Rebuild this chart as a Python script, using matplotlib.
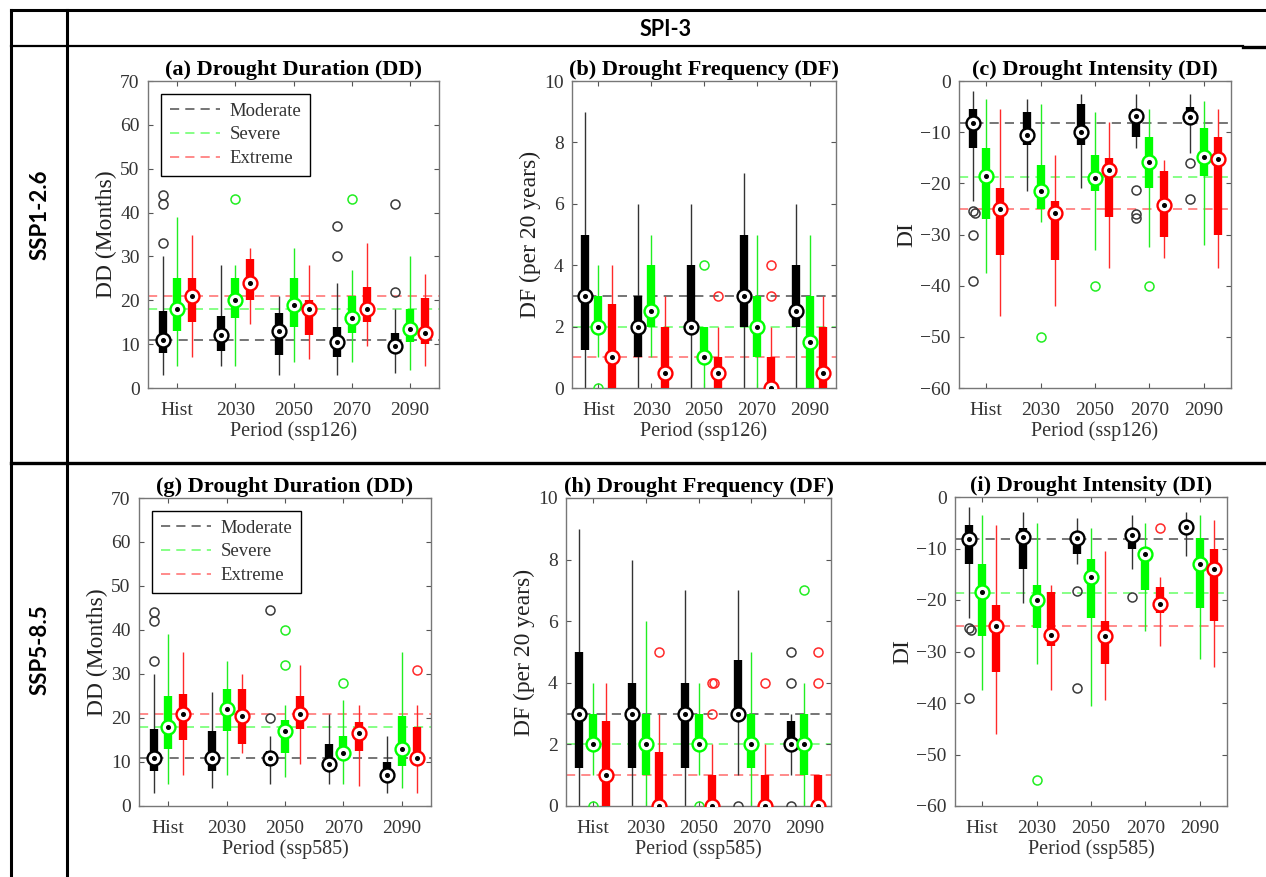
import numpy as np
import matplotlib.pyplot as plt
from matplotlib.lines import Line2D

plt.rcParams['font.family'] = ['Liberation Serif', 'DejaVu Serif']

periods = ['Hist', '2030', '2050', '2070', '2090']
classes = ['Moderate', 'Severe', 'Extreme']

# rows: Moderate, Severe, Extreme ; columns: Hist, 2030, 2050, 2070, 2090
# SSP1-2.6 drought duration (months)
dd126_lo = [[3, 5, 3, 3, 3.5], [5, 5, 6, 6, 4], [7, 14.5, 6.5, 9.5, 5]]
dd126_q1 = [[8, 8.5, 7.5, 7, 8.5], [13, 16, 14, 12.5, 10.5], [15, 20, 12, 15, 10]]
dd126_med = [[11, 12, 13, 10.5, 9.5], [18, 20, 19, 16, 13.5], [21, 24, 18, 18, 12.5]]
dd126_q3 = [[17.5, 16.5, 17, 14, 12.5], [25, 25, 25, 21, 18], [25, 29.5, 20, 23, 20.5]]
dd126_hi = [[30, 28, 21, 24, 18], [39, 28, 32, 27, 30], [35, 32, 28, 33, 26]]
dd126_out = [[[33, 42, 44], [], [], [30, 37], [22, 42]],
             [[], [43], [], [43], []],
             [[], [], [], [], []]]
dd126_ref = [11, 18, 21]

# SSP1-2.6 drought frequency (per 20 years)
df126_lo = [[0, 0, 0, 0, 0], [1, 1, 0, 0, 0], [0, 0, 0, 0, 0]]
df126_q1 = [[1.25, 1, 2, 2, 2], [2, 2, 1, 1, 0], [0, 0, 0, 0, 0]]
df126_med = [[3, 2, 2, 3, 2.5], [2, 2.5, 1, 2, 1.5], [1, 0.5, 0.5, 0, 0.5]]
df126_q3 = [[5, 3, 4, 5, 4], [3, 4, 2, 3, 3], [2.75, 2, 1, 1, 2]]
df126_hi = [[9, 6, 6, 7, 6], [4, 5, 2, 5, 5], [4, 3, 2, 2, 3]]
df126_out = [[[], [], [], [], []],
             [[0], [], [4], [], []],
             [[], [], [3], [3, 4], []]]
df126_ref = [3, 2, 1]

# SSP1-2.6 drought intensity
di126_lo = [[-23.5, -21.5, -21, -13, -14], [-37.5, -27.5, -33, -32.5, -32], [-46, -44, -36.5, -34.5, -36.5]]
di126_q1 = [[-13, -12.5, -12.5, -11, -8], [-27, -25, -21.5, -21, -18.5], [-34, -35, -26.5, -30.5, -30]]
di126_med = [[-8.2, -10.5, -10, -6.8, -7], [-18.5, -21.5, -19, -15.8, -14.8], [-25, -25.8, -17.3, -24.3, -15.2]]
di126_q3 = [[-5.5, -6, -4.5, -5.5, -5], [-13, -16.5, -14.5, -11, -9.2], [-21, -23.5, -15, -17.5, -11]]
di126_hi = [[-2, -3.5, -2.5, -2.5, -2.5], [-3.5, -4.5, -6, -5.5, -4], [-5.5, -14.5, -8, -15.5, -5.5]]
di126_out = [[[-25.5, -25.8, -30, -39], [], [], [-21.3, -26, -26.8], [-16, -23]],
             [[], [-50], [-40], [-40], []],
             [[], [], [], [], []]]
di126_ref = [-8.2, -18.7, -25]

# SSP5-8.5 drought duration (months)
dd585_lo = [[3, 4, 5, 5, 3], [5, 7, 6.5, 5, 4], [7, 12, 9.5, 4.5, 3]]
dd585_q1 = [[8, 8, 9, 9.5, 7], [13, 17, 12, 12, 9], [15, 14, 17.5, 12.5, 11]]
dd585_med = [[11, 11, 11, 9.5, 7], [18, 22, 17, 12, 13], [21, 20.5, 21, 16.5, 11]]
dd585_q3 = [[17.5, 17, 12.5, 14, 10], [25, 26.5, 19.5, 16, 20.5], [25.5, 26.5, 25, 19, 18]]
dd585_hi = [[30, 26, 16, 21, 16], [39, 33, 23, 24, 35], [35, 30, 32, 23, 23]]
dd585_out = [[[33, 42, 44], [], [20, 44.5], [], []],
             [[], [], [32, 40], [28], []],
             [[], [], [], [], [31]]]
dd585_ref = [11, 18, 21]

# SSP5-8.5 drought frequency (per 20 years)
df585_lo = [[0, 0, 0, 1, 1], [1, 0, 1, 0, 0], [0, 0, 0, 0, 0]]
df585_q1 = [[1.25, 1.25, 1.25, 3, 2], [2, 1, 2, 1.25, 1], [0, 0, 0, 0, 0]]
df585_med = [[3, 3, 3, 3, 2], [2, 2, 2, 2, 2], [1, 0, 0, 0, 0]]
df585_q3 = [[5, 4, 4, 4.75, 2.75], [3, 3, 3, 3, 3], [2.75, 1.75, 1, 1, 1]]
df585_hi = [[9, 8, 7, 7, 3], [4, 6, 4, 5, 4], [4, 3, 2, 2, 1]]
df585_out = [[[], [], [], [0], [0, 4, 5]],
             [[0], [], [0], [], [7]],
             [[], [5], [3, 4, 4], [4], [4, 5]]]
df585_ref = [3, 2, 1]

# SSP5-8.5 drought intensity
di585_lo = [[-23.5, -20.5, -13, -14, -11.5], [-37.5, -32.5, -40.5, -26, -31.5], [-46, -37.5, -39.5, -29, -33]]
di585_q1 = [[-13, -14, -11, -10, -7], [-27, -25.5, -23.5, -18, -21.5], [-34, -29, -32.5, -22.5, -24]]
di585_med = [[-8.2, -7.8, -8, -7.3, -5.8], [-18.5, -20, -15.5, -11, -13], [-25, -26.8, -27, -20.8, -14]]
di585_q3 = [[-5.5, -6, -7, -6.5, -5], [-13, -17, -12, -10.5, -8], [-21, -18.5, -24, -17.5, -10]]
di585_hi = [[-2, -3, -4, -3.5, -3], [-3.5, -5, -6, -5, -3.5], [-5.5, -17, -10.5, -15.5, -4.5]]
di585_out = [[[-25.5, -25.8, -30, -39], [], [-18.2, -37], [-19.5], []],
             [[], [-55], [], [], []],
             [[], [], [], [-6], []]]
di585_ref = [-8.2, -18.7, -25]

W, H = 1266, 877
box_col = ['#000000', '#00ff00', '#ff0000']
whisk_col = ['#333333', '#22ee22', '#ff2a2a']
out_col = ['#3a3a3a', '#22ee22', '#ff2a2a']
ref_col = ['#505050', '#66ff66', '#ff6b6b']
offsets = [-0.25, 0, 0.26]

fig = plt.figure(figsize=(W / 100, H / 100), dpi=100)

# table grid behind the panels
bg = fig.add_axes([0, 0, 1, 1])
bg.set_xlim(0, W)
bg.set_ylim(H, 0)
bg.axis('off')
bg.plot([11, W], [10, 10], color='black', lw=2.2)
bg.plot([11, 1243], [46, 46], color='black', lw=1.6)
bg.plot([1243, W], [47, 47], color='black', lw=2.4)
bg.plot([11, W], [463, 463], color='black', lw=2.4)
bg.plot([11, 11], [10, H], color='black', lw=2.2)
bg.plot([67, 67], [10, H], color='black', lw=2.2)
bg.text(666, 29, 'SPI-3', ha='center', va='center', fontsize=15.5,
        fontweight='bold', family=['Lato', 'DejaVu Sans'])
bg.text(40, 215, 'SSP1-2.6', ha='center', va='center', rotation=90, fontsize=16,
        fontweight='bold', family=['Lato', 'DejaVu Sans'])
bg.text(40, 650, 'SSP5-8.5', ha='center', va='center', rotation=90, fontsize=16,
        fontweight='bold', family=['Lato', 'DejaVu Sans'])


def add_px_axes(l, t, r, b):
    return fig.add_axes([l / W, 1 - b / H, (r - l) / W, (b - t) / H])


def draw_panel(ax, lo, q1, med, q3, hi, out, ref, ylim, yticks, title, ylabel,
               xlabel, legend=False):
    x = np.arange(1, 6)
    for k in range(3):
        ax.axhline(ref[k], color=ref_col[k], lw=1.1, dashes=(6, 4), zorder=1)
    for k in range(3):
        xk = x + offsets[k]
        ax.vlines(xk, lo[k], hi[k], color=whisk_col[k], lw=1.0, zorder=2)
        ax.vlines(xk, q1[k], q3[k], color=box_col[k], lw=6.0, zorder=3)
        for i in range(5):
            vals = out[k][i]
            for j, v in enumerate(vals):
                dup = sum(1 for u in vals[:j] if abs(u - v) < 0.6)
                ax.plot(xk[i] + 0.04 * dup, v, 'o', mfc='none', mec=out_col[k],
                        ms=6.5, mew=1.1, zorder=4)
        ax.plot(xk, med[k], 'o', mfc='white', mec=box_col[k], ms=10, mew=1.7, zorder=5)
        ax.plot(xk, med[k], 'o', color='black', ms=2.6, zorder=6)
    ax.set_xlim(0.5, 5.5)
    ax.set_ylim(*ylim)
    ax.set_yticks(yticks)
    ax.set_xticks(x)
    ax.set_xticklabels(periods)
    ax.tick_params(direction='in', top=True, right=True, length=3.5, width=0.8,
                   color='#555555', labelcolor='#333333', labelsize=14)
    ax.tick_params(axis='y', pad=6)
    ax.tick_params(axis='x', pad=10)
    for s in ax.spines.values():
        s.set_color('#777777')
        s.set_linewidth(1.0)
    ax.set_title(title, fontsize=16, fontweight='bold', pad=4)
    ax.set_ylabel(ylabel, fontsize=17, color='#222222', labelpad=2)
    ax.set_xlabel(xlabel, fontsize=14.5, color='#333333', labelpad=1.5)
    if legend:
        handles = [Line2D([], [], color=ref_col[k], lw=1.1, dashes=(6, 4)) for k in range(3)]
        leg = ax.legend(handles, classes, loc='upper left', fontsize=13.5,
                        handlelength=2.7, handletextpad=0.5, labelspacing=0.35,
                        borderpad=0.45, borderaxespad=0.7, fancybox=False,
                        framealpha=1, edgecolor='black')
        leg.get_frame().set_linewidth(1.0)
        for t in leg.get_texts():
            t.set_color('#333333')


ax_a = add_px_axes(148, 81, 439, 388)
draw_panel(ax_a, dd126_lo, dd126_q1, dd126_med, dd126_q3, dd126_hi, dd126_out, dd126_ref,
           (0, 70), range(0, 71, 10), '(a) Drought Duration (DD)', 'DD (Months)',
           'Period (ssp126)', legend=True)
ax_b = add_px_axes(572, 81, 836, 388)
draw_panel(ax_b, df126_lo, df126_q1, df126_med, df126_q3, df126_hi, df126_out, df126_ref,
           (0, 10), range(0, 11, 2), '(b) Drought Frequency (DF)', 'DF (per 20 years)',
           'Period (ssp126)')
ax_c = add_px_axes(959, 81, 1231, 388)
draw_panel(ax_c, di126_lo, di126_q1, di126_med, di126_q3, di126_hi, di126_out, di126_ref,
           (-60, 0), range(-60, 1, 10), '(c) Drought Intensity (DI)', 'DI',
           'Period (ssp126)')
ax_g = add_px_axes(139, 498, 431, 806)
draw_panel(ax_g, dd585_lo, dd585_q1, dd585_med, dd585_q3, dd585_hi, dd585_out, dd585_ref,
           (0, 70), range(0, 71, 10), '(g) Drought Duration (DD)', 'DD (Months)',
           'Period (ssp585)', legend=True)
ax_h = add_px_axes(566, 498, 831, 806)
draw_panel(ax_h, df585_lo, df585_q1, df585_med, df585_q3, df585_hi, df585_out, df585_ref,
           (0, 10), range(0, 11, 2), '(h) Drought Frequency (DF)', 'DF (per 20 years)',
           'Period (ssp585)')
ax_i = add_px_axes(955, 497, 1227, 806)
draw_panel(ax_i, di585_lo, di585_q1, di585_med, di585_q3, di585_hi, di585_out, di585_ref,
           (-60, 0), range(-60, 1, 10), '(i) Drought Intensity (DI)', 'DI',
           'Period (ssp585)')

fig.savefig('out.png', dpi=100)
